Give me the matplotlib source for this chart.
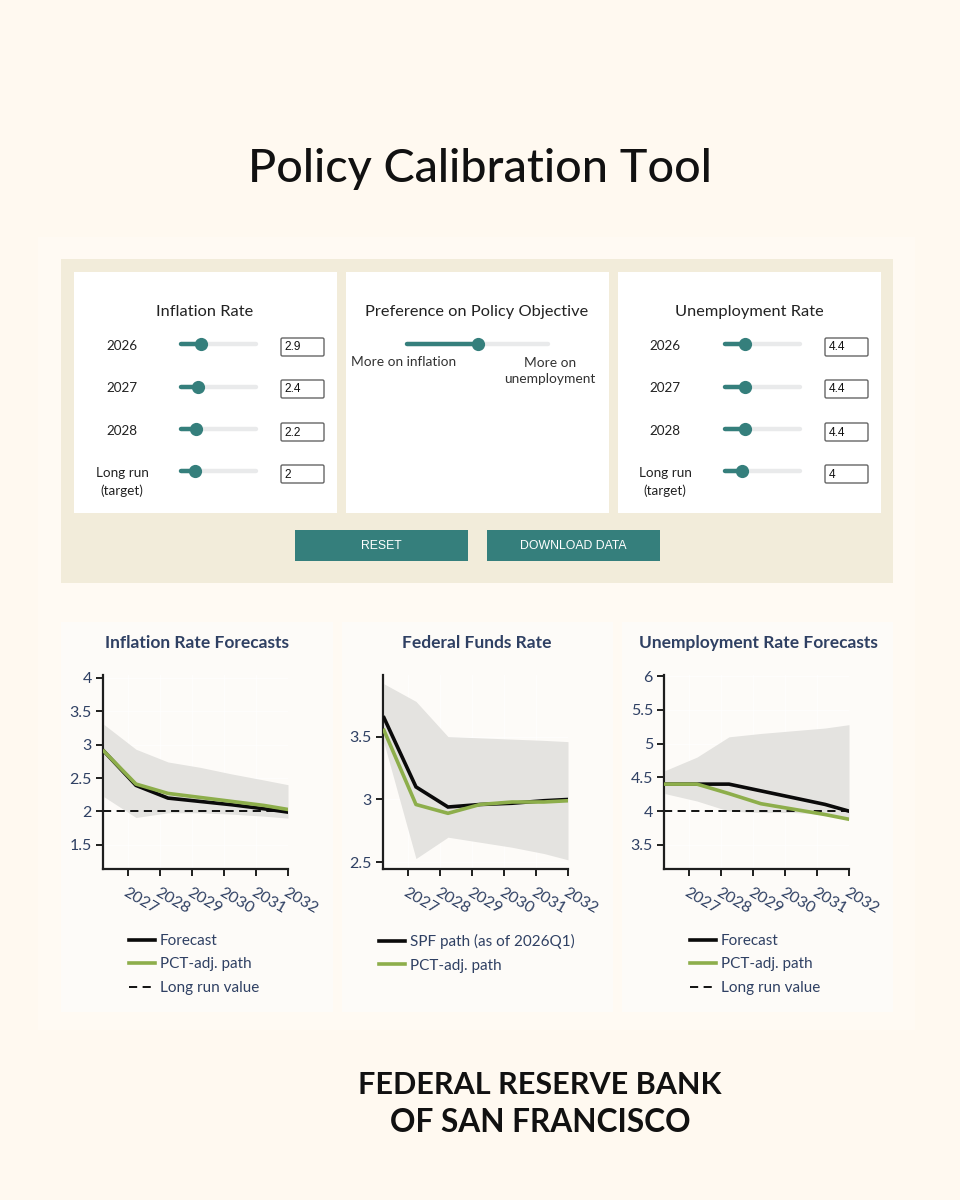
import matplotlib
matplotlib.use("Agg")
import matplotlib.pyplot as plt
from matplotlib.patches import Rectangle, FancyBboxPatch
from matplotlib.lines import Line2D
import numpy as np

plt.rcParams['font.family'] = ['Lato', 'DejaVu Sans']

# x positions of the yearly points on the time axis
years = [2026.25, 2027.25, 2028.25, 2029.25, 2030.25, 2031.25, 2032]
year_ticks = [2027, 2028, 2029, 2030, 2031, 2032]

inf_forecast = [2.9, 2.39, 2.2, 2.15, 2.1, 2.04, 1.99]
inf_pct = [2.9, 2.41, 2.27, 2.21, 2.15, 2.09, 2.03]
inf_upper = [3.3, 2.93, 2.74, 2.66, 2.56, 2.47, 2.4]
inf_lower = [2.22, 1.91, 1.98, 1.98, 1.96, 1.93, 1.9]

ffr_spf = [3.65, 3.1, 2.94, 2.96, 2.97, 2.99, 3.0]
ffr_pct = [3.55, 2.96, 2.89, 2.96, 2.98, 2.98, 2.99]
ffr_upper = [3.92, 3.78, 3.5, 3.49, 3.48, 3.47, 3.46]
ffr_lower = [3.45, 2.53, 2.7, 2.66, 2.62, 2.57, 2.52]

un_forecast = [4.4, 4.4, 4.4, 4.3, 4.2, 4.1, 4.0]
un_pct = [4.4, 4.4, 4.26, 4.11, 4.03, 3.95, 3.88]
un_upper = [4.6, 4.8, 5.1, 5.15, 5.19, 5.23, 5.28]
un_lower = [4.26, 4.15, 4.0, 3.98, 3.98, 3.95, 3.88]

inf_ticks = [1.5, 2, 2.5, 3, 3.5, 4]
ffr_ticks = [2.5, 3, 3.5]
un_ticks = [3.5, 4, 4.5, 5, 5.5, 6]

slider_labels = ['2026', '2027', '2028', 'Long run\n(target)']
inf_sliders = [2.9, 2.4, 2.2, 2]
un_sliders = [4.4, 4.4, 4.4, 4]
pref_slider = 0.5

BG = '#FFF9F0'
TEAL = '#357F7C'
NAVY = '#2F4063'
GREEN = '#8DAE4B'

fig = plt.figure(figsize=(9.6, 12), dpi=100, facecolor=BG)

# overlay in pixel coordinates for the page furniture
ui = fig.add_axes([0, 0, 1, 1], zorder=0)
ui.set_xlim(0, 960)
ui.set_ylim(1200, 0)
ui.axis('off')


def box(x0, y0, x1, y1, color):
    ui.add_patch(Rectangle((x0, y0), x1 - x0, y1 - y0, fc=color, ec='none'))


box(38, 237, 915, 1030, '#FFFAF3')
box(61, 259, 893, 583, '#F2ECDA')
for x0, x1 in [(74, 337), (346, 609), (618, 881)]:
    box(x0, 272, x1, 513, 'white')
for x0, x1 in [(61, 333), (342, 613), (622, 893)]:
    box(x0, 622, x1, 1012, '#FDFBF8')

ui.text(480, 169, 'Policy Calibration Tool', fontsize=33.6, fontweight='medium',
        ha='center', va='center', color='#111111')
ui.text(540, 1085, 'FEDERAL RESERVE BANK', fontsize=22, fontweight='bold',
        ha='center', va='center', color='#111111')
ui.text(540, 1123, 'OF SAN FRANCISCO', fontsize=22.8, fontweight='bold',
        ha='center', va='center', color='#111111')


def slider(x0, x1, y, value, vmin, vmax):
    pos = np.interp(value, [vmin, vmax], [x0, x1])
    ui.plot([x0 + 2, x1 - 2], [y, y], color='#E9EAEB', lw=3.2, solid_capstyle='round')
    ui.plot([x0 + 2, pos], [y, y], color=TEAL, lw=3.2, solid_capstyle='round')
    ui.plot([pos], [y], 'o', color=TEAL, ms=9.5, mew=0)


def slider_card(title, title_x, label_x, track, box_x, values, vmin, vmax):
    ui.text(title_x, 312, title, fontsize=11.8, ha='center', va='center', color='#222222')
    for i, (lab, val) in enumerate(zip(slider_labels, values)):
        y = [344, 387, 429, 471][i]
        label_y = [346, 388, 431, 482][i]
        ui.text(label_x, label_y, lab, fontsize=9.7, ha='center', va='center',
                color='#222222', linespacing=1.45)
        slider(track[0], track[1], y, val, vmin, vmax)
        by = [338, 380, 423, 465][i]
        ui.add_patch(FancyBboxPatch((box_x, by), 43, 18, boxstyle='round,pad=0,rounding_size=1.5',
                                    fc='white', ec='#666666', lw=1))
        ui.text(box_x + 3.5, by + 9.5, str(val), fontsize=8.6, family='Liberation Sans',
                ha='left', va='center', color='#111111')


slider_card('Inflation Rate', 205, 122, (179, 258), 281, inf_sliders, -0.4, 11.45)
slider_card('Unemployment Rate', 749, 665, (723, 802), 825, un_sliders, 1.47, 12)

ui.text(477, 312, 'Preference on Policy Objective', fontsize=11.8, ha='center',
        va='center', color='#222222')
slider(405, 550, 344, pref_slider, 0, 1)
ui.text(404, 362, 'More on inflation', fontsize=9.9, ha='center', va='center', color='#333333')
ui.text(550, 371, 'More on\nunemployment', fontsize=9.9, ha='center', va='center',
        color='#333333', linespacing=1.4)

for x0, x1, lab in [(295, 468, 'RESET'), (487, 660, 'DOWNLOAD DATA')]:
    box(x0, 530, x1, 561, TEAL)
    ui.text((x0 + x1) / 2, 546, lab, fontsize=8.8, family='Liberation Sans',
            ha='center', va='center', color='white')


def chart(left, ylim, yticks, title, title_x, main, pct, upper, lower, main_label,
          long_run=None, legend_x=129):
    ax = fig.add_axes([left / 960, 1 - 869 / 1200, 185 / 960, 194 / 1200], zorder=2)
    ax.patch.set_alpha(0)
    ax.set_xlim(2026.22, 2032)
    ax.set_ylim(*ylim)
    ax.grid(True, color='white', lw=0.8, alpha=0.7)
    ax.set_axisbelow(True)
    ax.fill_between(years, lower, upper, color='#E4E3E0', lw=0, zorder=1)
    handles = []
    h1, = ax.plot(years, main, color='#0A0A0A', lw=2.6, zorder=3, solid_joinstyle='miter',
                  label=main_label)
    h2, = ax.plot(years, pct, color=GREEN, lw=2.6, zorder=4, label='PCT-adj. path')
    handles += [h1, h2]
    if long_run is not None:
        ax.plot([2026.22, 2032], [long_run, long_run], color='#111111', lw=1.4,
                dashes=(4.2, 2.8), zorder=2)
        handles.append(Line2D([], [], color='#111111', lw=1.4, dashes=(4.2, 2.8),
                              label='Long run value'))
    for side in ['top', 'right']:
        ax.spines[side].set_visible(False)
    for side in ['left', 'bottom']:
        ax.spines[side].set_linewidth(1.6)
        ax.spines[side].set_color('#1E1E1E')
    ax.set_yticks(yticks)
    ax.set_yticklabels([f'{v:g}' for v in yticks])
    ax.set_xticks(year_ticks)
    ax.set_xticklabels([str(y) for y in year_ticks], rotation=-30, ha='left',
                       rotation_mode='anchor')
    ax.tick_params(axis='both', length=5, width=1.4, color='#1E1E1E', labelcolor=NAVY,
                   labelsize=11.5, pad=3)
    ax.tick_params(axis='x', pad=7)
    ui.text(title_x, 643, title, fontsize=12.5, fontweight='bold', ha='center', va='center',
            color=NAVY)
    ax.legend(handles=handles, loc='upper left', bbox_to_anchor=(legend_x, 934),
              bbox_transform=ui.transData, frameon=False, fontsize=11, labelcolor=NAVY,
              borderpad=0, borderaxespad=0, handlelength=1.7, handletextpad=0.3, labelspacing=0.62)


chart(103, (1.14, 4.04), inf_ticks, 'Inflation Rate Forecasts', 197, inf_forecast, inf_pct,
      inf_upper, inf_lower, 'Forecast', long_run=2, legend_x=129)
chart(383, (2.447, 3.99), ffr_ticks, 'Federal Funds Rate', 477, ffr_spf, ffr_pct,
      ffr_upper, ffr_lower, 'SPF path (as of 2026Q1)', legend_x=379)
chart(664, (3.144, 6.015), un_ticks, 'Unemployment Rate Forecasts', 758, un_forecast, un_pct,
      un_upper, un_lower, 'Forecast', long_run=4, legend_x=690)

fig.savefig('out.png', dpi=100, facecolor=BG)
